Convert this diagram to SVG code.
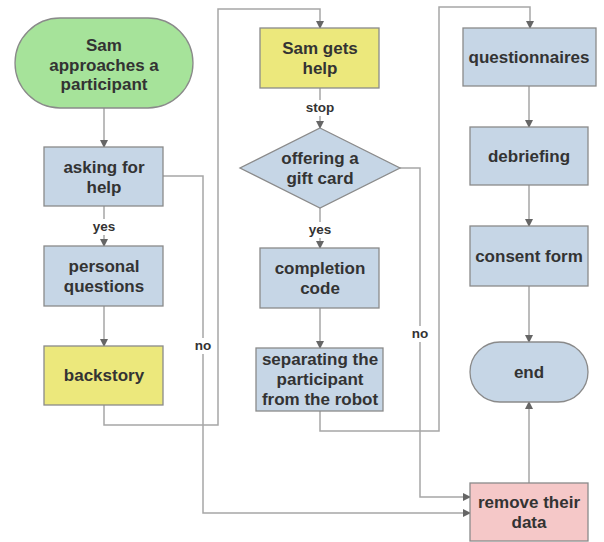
<svg xmlns="http://www.w3.org/2000/svg" width="604" height="542" viewBox="0 0 604 542">
<style>
.t{font-family:"Liberation Sans",Arial,sans-serif;font-weight:bold;font-size:17px;fill:#333;text-anchor:middle}
.l{font-family:"Liberation Sans",Arial,sans-serif;font-weight:bold;font-size:13.5px;fill:#333;text-anchor:middle}
.c{fill:none;stroke:#a6a6a6;stroke-width:1.5}
.blue{fill:#c6d6e6;stroke:#8a8a8a;stroke-width:1.3}
.yel{fill:#ece87c;stroke:#8a8a8a;stroke-width:1.3}
.grn{fill:#a6e39a;stroke:#8a8a8a;stroke-width:1.3}
.pink{fill:#f5c8c8;stroke:#8a8a8a;stroke-width:1.3}
.lb{fill:#fff}
</style>
<defs>
<marker id="a" markerWidth="8" markerHeight="8" refX="7" refY="4" orient="auto" markerUnits="userSpaceOnUse">
<path d="M0,0 L8,4 L0,8 Z" fill="#666"/>
</marker>
</defs>
<rect width="604" height="542" fill="#fff"/>
<g id="connectors">
<path class="c" d="M104,108 V147" marker-end="url(#a)"/>
<path class="c" d="M104,206 V246" marker-end="url(#a)"/>
<path class="c" d="M104,306 V346" marker-end="url(#a)"/>
<path class="c" d="M163,176 H203 V513 H470" marker-end="url(#a)"/>
<path class="c" d="M104,405 V425 H218 V9 H320 V28" marker-end="url(#a)"/>
<path class="c" d="M320,88 V128" marker-end="url(#a)"/>
<path class="c" d="M320,208 V248" marker-end="url(#a)"/>
<path class="c" d="M320,308 V348" marker-end="url(#a)"/>
<path class="c" d="M400,168 H420 V497 H470" marker-end="url(#a)"/>
<path class="c" d="M320,411 V431 H439 V7 H530 V28" marker-end="url(#a)"/>
<path class="c" d="M529,86 V127" marker-end="url(#a)"/>
<path class="c" d="M529,185 V226" marker-end="url(#a)"/>
<path class="c" d="M529,286 V342" marker-end="url(#a)"/>
<path class="c" d="M529,483 V402" marker-end="url(#a)"/>
<rect class="lb" x="88" y="219" width="32" height="16"/>
<text class="l" x="104" y="231">yes</text>
<rect class="lb" x="302" y="100" width="36" height="16"/>
<text class="l" x="320" y="112">stop</text>
<rect class="lb" x="304" y="222" width="32" height="16"/>
<text class="l" x="320" y="234">yes</text>
<rect class="lb" x="191" y="338" width="24" height="16"/>
<text class="l" x="203" y="350">no</text>
<rect class="lb" x="408" y="326" width="24" height="16"/>
<text class="l" x="420" y="338">no</text>
</g>
<g id="start">
<rect class="grn" x="15" y="18" width="178" height="90" rx="45" ry="45"/>
<text class="t" x="104" y="51">Sam</text>
<text class="t" x="104" y="71">approaches a</text>
<text class="t" x="104" y="90">participant</text>
</g>
<g id="asking">
<rect class="blue" x="44" y="147" width="119" height="59"/>
<text class="t" x="104" y="173">asking for</text>
<text class="t" x="104" y="193">help</text>
</g>
<g id="personal">
<rect class="blue" x="44" y="246" width="119" height="60"/>
<text class="t" x="104" y="272">personal</text>
<text class="t" x="104" y="292">questions</text>
</g>
<g id="backstory">
<rect class="yel" x="44" y="346" width="119" height="59"/>
<text class="t" x="104" y="381">backstory</text>
</g>
<g id="gets-help">
<rect class="yel" x="260" y="28" width="119" height="60"/>
<text class="t" x="320" y="54">Sam gets</text>
<text class="t" x="320" y="74">help</text>
</g>
<g id="gift-card">
<polygon class="blue" points="320,128 400,168 320,208 240,168"/>
<text class="t" x="320" y="164">offering a</text>
<text class="t" x="320" y="184">gift card</text>
</g>
<g id="completion">
<rect class="blue" x="260" y="248" width="119" height="60"/>
<text class="t" x="320" y="274">completion</text>
<text class="t" x="320" y="294">code</text>
</g>
<g id="separating">
<rect class="blue" x="256" y="348" width="127" height="63"/>
<text class="t" x="320" y="365">separating the</text>
<text class="t" x="320" y="385">participant</text>
<text class="t" x="320" y="405">from the robot</text>
</g>
<g id="questionnaires">
<rect class="blue" x="463" y="28" width="133" height="58"/>
<text class="t" x="529" y="63">questionnaires</text>
</g>
<g id="debriefing">
<rect class="blue" x="470" y="127" width="118" height="58"/>
<text class="t" x="529" y="162">debriefing</text>
</g>
<g id="consent">
<rect class="blue" x="470" y="226" width="118" height="60"/>
<text class="t" x="529" y="262">consent form</text>
</g>
<g id="end">
<rect class="blue" x="470" y="342" width="118" height="60" rx="30" ry="30"/>
<text class="t" x="529" y="378">end</text>
</g>
<g id="remove">
<rect class="pink" x="470" y="483" width="118" height="58"/>
<text class="t" x="529" y="508">remove their</text>
<text class="t" x="529" y="528">data</text>
</g>
</svg>
